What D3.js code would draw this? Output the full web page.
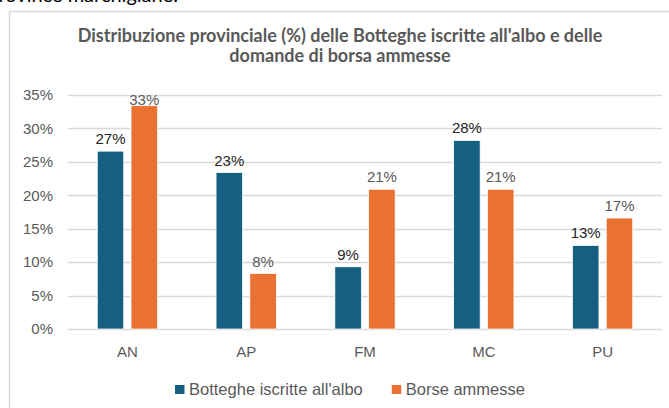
<!DOCTYPE html>
<html>
<head>
<meta charset="utf-8">
<script src="https://cdn.jsdelivr.net/npm/d3@7"></script>
<style>
  body { margin: 0; background: #fff; }
  svg { display: block; }
</style>
</head>
<body>
<svg id="drawing_region"></svg>
<script>
const categories = ['AN', 'AP', 'FM', 'MC', 'PU'];
const seriesNames = ["Botteghe iscritte all'albo", 'Borse ammesse'];
const botteghe = [0.266, 0.234, 0.093, 0.282, 0.125];
const borse = [0.334, 0.083, 0.209, 0.209, 0.166];
const yTicks = [0, 0.05, 0.10, 0.15, 0.20, 0.25, 0.30, 0.35];
const titleLines = ["Distribuzione  provinciale (%) delle Botteghe iscritte all'albo e delle", 'domande di borsa ammesse'];

const colors = ['#156082', '#E97132'];
const labelColors = ['#262626', '#595959'];

var config = {
    parent: '#drawing_region',
    width: 669,
    height: 408,
    plot: { left: 68, right: 662, top: 95, bottom: 329 }
};

const svg = d3.select(config.parent)
    .attr('width', config.width)
    .attr('height', config.height);

// bit of the document text cut off above the chart
svg.append('text')
    .attr('x', 178)
    .attr('y', 2)
    .attr('text-anchor', 'end')
    .attr('font-family', 'Lato, "Open Sans", sans-serif')
    .attr('font-size', '20px')
    .attr('fill', '#000')
    .text('delle province marchigiane.');

// chart frame
svg.append('rect')
    .attr('x', 9.5)
    .attr('y', 11.5)
    .attr('width', 700)
    .attr('height', 500)
    .attr('fill', '#fff')
    .attr('stroke', '#d9d9d9')
    .attr('stroke-width', 1.5);

// title
const title = svg.append('g');
titleLines.forEach((line, i) => {
    title.append('text')
        .attr('x', 340)
        .attr('y', 42 + i * 20)
        .attr('text-anchor', 'middle')
        .attr('font-family', 'Lato, "Open Sans", sans-serif')
        .attr('font-weight', 'bold')
        .attr('font-size', '16px')
        .attr('fill', '#595959')
        .text(line);
});
// fit first line to the width seen in the picture
const firstLine = title.select('text').node();
const fitSize = 16 * 525 / firstLine.getComputedTextLength();
title.selectAll('text').attr('font-size', fitSize + 'px');

const xscale = d3.scaleBand()
    .domain(categories)
    .range([config.plot.left, config.plot.right])
    .padding(0);

const xinner = d3.scaleBand()
    .domain(seriesNames)
    .range([0, xscale.bandwidth()])
    .paddingInner(0.216)
    .paddingOuter(0.866);

const yscale = d3.scaleLinear()
    .domain([0, 0.35])
    .range([config.plot.bottom, config.plot.top]);

const fontFamily = '"Liberation Sans", Arial, sans-serif';

// gridlines
svg.append('g')
    .selectAll('line')
    .data(yTicks)
    .join('line')
    .attr('x1', config.plot.left)
    .attr('x2', config.plot.right)
    .attr('y1', d => Math.round(yscale(d)) + 0.5)
    .attr('y2', d => Math.round(yscale(d)) + 0.5)
    .attr('stroke', '#d9d9d9')
    .attr('stroke-width', 1.5);

// y axis labels
const yaxis = d3.axisLeft(yscale)
    .tickValues(yTicks)
    .tickFormat(d3.format('.0%'))
    .tickSize(0)
    .tickPadding(0);

const yaxisGroup = svg.append('g')
    .attr('transform', 'translate(53, 0)')
    .call(yaxis);
yaxisGroup.select('.domain').remove();
yaxisGroup.selectAll('text')
    .attr('font-family', fontFamily)
    .attr('font-size', '15px')
    .attr('fill', '#595959');

// x axis labels
const xaxis = d3.axisBottom(xscale)
    .tickSize(0)
    .tickPadding(0);

const xaxisGroup = svg.append('g')
    .attr('transform', `translate(0, ${config.plot.bottom})`)
    .call(xaxis);
xaxisGroup.select('.domain').remove();
xaxisGroup.selectAll('text')
    .attr('dy', null)
    .attr('y', 28)
    .attr('font-family', fontFamily)
    .attr('font-size', '15px')
    .attr('fill', '#595959');

// bars
const series = [botteghe, borse];
const rows = [];
series.forEach((values, s) => {
    values.forEach((v, i) => {
        rows.push({ cat: categories[i], name: seriesNames[s], s: s, value: v });
    });
});

svg.append('g')
    .selectAll('rect')
    .data(rows)
    .join('rect')
    .attr('x', d => xscale(d.cat) + xinner(d.name))
    .attr('y', d => yscale(d.value))
    .attr('width', xinner.bandwidth())
    .attr('height', d => yscale(0) - yscale(d.value))
    .attr('fill', d => colors[d.s])
    .attr('stroke', '#fff')
    .attr('stroke-width', 0.75);

// data labels
svg.append('g')
    .selectAll('text')
    .data(rows)
    .join('text')
    .attr('x', d => xscale(d.cat) + xinner(d.name) + xinner.bandwidth() / 2)
    .attr('y', d => Math.max(yscale(d.value) - 7, config.plot.top + 10))
    .attr('text-anchor', 'middle')
    .attr('font-family', fontFamily)
    .attr('font-size', '15px')
    .attr('fill', d => labelColors[d.s])
    .text(d => d3.format('.0%')(d.value));

// legend
const legend = svg.append('g');
let lx = 175;
seriesNames.forEach((name, s) => {
    legend.append('rect')
        .attr('x', lx)
        .attr('y', 385)
        .attr('width', 9.5)
        .attr('height', 9)
        .attr('fill', colors[s]);
    const t = legend.append('text')
        .attr('x', lx + 14)
        .attr('y', 394.5)
        .attr('font-family', fontFamily)
        .attr('font-size', '16.5px')
        .attr('fill', '#595959')
        .text(name);
    lx += 14 + t.node().getComputedTextLength() + 29;
});
</script>
</body>
</html>
